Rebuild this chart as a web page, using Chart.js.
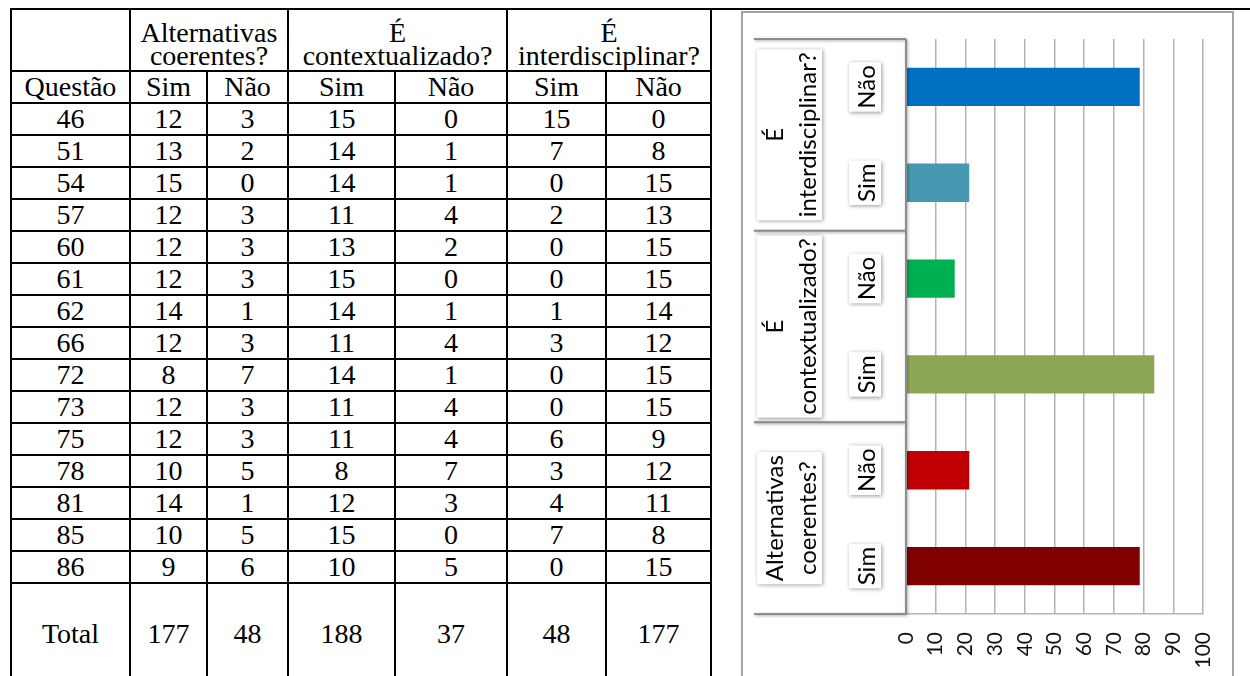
<!DOCTYPE html>
<html lang="pt">
<head>
<meta charset="utf-8">
<title>Avaliação das questões</title>
<script src="https://cdn.jsdelivr.net/npm/chart.js@4.4.1/dist/chart.umd.min.js"></script>
<style>
  html, body { margin: 0; padding: 0; background: #fff; }
  body { width: 1250px; height: 676px; position: relative; overflow: hidden; }
  #tabela > div { position: absolute; }
  .cell { font-family: 'Liberation Serif', 'Times New Roman', serif; font-size: 28px; color: #000;
          text-align: center; white-space: nowrap; line-height: 32px; }
  .cell.dupla { line-height: 23px; }
  .cell span { display: block; }
  .hline { height: 2px; background: #000; }
  .vline { width: 2px; background: #000; }
  #moldura { position: absolute; left: 741px; top: 11px; width: 493px; height: 700px;
             box-sizing: border-box; border: 2px solid #a3a3a3; }
  #grafico { position: absolute; left: 743px; top: 13px; }
</style>
</head>
<body>
<div id="tabela"></div>
<div id="moldura"></div>
<canvas id="grafico" width="489" height="663"></canvas>
<script>
// tabela
const questoes = ['46', '51', '54', '57', '60', '61', '62', '66', '72', '73', '75', '78', '81', '85', '86'];
const altSim = [12, 13, 15, 12, 12, 12, 14, 12, 8, 12, 12, 10, 14, 10, 9];
const altNao = [3, 2, 0, 3, 3, 3, 1, 3, 7, 3, 3, 5, 1, 5, 6];
const contSim = [15, 14, 14, 11, 13, 15, 14, 11, 14, 11, 11, 8, 12, 15, 10];
const contNao = [0, 1, 1, 4, 2, 0, 1, 4, 1, 4, 4, 7, 3, 0, 5];
const interSim = [15, 7, 0, 2, 0, 0, 1, 3, 0, 0, 6, 3, 4, 7, 0];
const interNao = [0, 8, 15, 13, 15, 15, 14, 12, 15, 15, 9, 12, 11, 8, 15];
const totais = [177, 48, 188, 37, 48, 177];
const cabecalhos = [['Alternativas', 'coerentes?'], ['É', 'contextualizado?'], ['É', 'interdisciplinar?']];
const subCabecalhos = ['Questão', 'Sim', 'Não', 'Sim', 'Não', 'Sim', 'Não'];

// gráfico
const respostas = ['Sim', 'Não', 'Sim', 'Não', 'Sim', 'Não'];
const grupos = [['Alternativas', 'coerentes?'], ['É', 'contextualizado?'], ['É', 'interdisciplinar?']];
const grupoDe = [0, 0, 1, 1, 2, 2];
const percentuais = [78.7, 21.3, 83.6, 16.4, 21.3, 78.7];
const cores = ['#800000', '#c00000', '#8ca754', '#00b050', '#4699b0', '#0070c0'];

// ---- tabela em divs posicionados
const tabela = document.getElementById('tabela');
const colX = [11, 130, 207, 288, 395, 507, 606, 711];

function add(cls, x, y, w, h, html) {
  const d = document.createElement('div');
  d.className = cls;
  d.style.left = x + 'px';
  d.style.top = y + 'px';
  if (w != null) d.style.width = w + 'px';
  if (h != null) d.style.height = h + 'px';
  if (html != null) d.innerHTML = html;
  tabela.appendChild(d);
}

cabecalhos.forEach((linhas, g) => {
  const x0 = colX[1 + g * 2], x1 = colX[3 + g * 2];
  add('cell dupla', x0, 21, x1 - x0, null, linhas.map(t => '<span>' + t + '</span>').join(''));
});
subCabecalhos.forEach((t, c) => add('cell', colX[c], 71, colX[c + 1] - colX[c], 32, t));

const colunas = [questoes, altSim, altNao, contSim, contNao, interSim, interNao];
questoes.forEach((q, r) => {
  colunas.forEach((col, c) => add('cell', colX[c], 103 + r * 32, colX[c + 1] - colX[c], 32, String(col[r])));
});
['Total'].concat(totais).forEach((t, c) => add('cell', colX[c], 618, colX[c + 1] - colX[c], 32, String(t)));

// linhas
add('hline', 10, 8, 1240, null);
const linhasY = [71, 103];
for (let r = 1; r <= questoes.length; r++) linhasY.push(103 + r * 32);
linhasY.forEach(y => add('hline', 10, y - 1, 702, null));
colX.forEach((x, c) => {
  const sub = c === 2 || c === 4 || c === 6;
  const top = sub ? 70 : 8;
  add('vline', x - 1, top, null, 676 - top);
});

// ---- rótulos das categorias
function rotulo(ctx, linhas, bases, cy, x0, x1) {
  const w = Math.max(...linhas.map(t => ctx.measureText(t).width));
  ctx.save();
  ctx.shadowColor = 'rgba(0,0,0,0.4)';
  ctx.shadowBlur = 4;
  ctx.shadowOffsetX = 1;
  ctx.shadowOffsetY = 1;
  ctx.fillStyle = '#fff';
  ctx.fillRect(x0, cy - w / 2 - 3, x1 - x0, w + 6);
  ctx.restore();
  ctx.fillStyle = '#000';
  ctx.textAlign = 'center';
  ctx.textBaseline = 'alphabetic';
  linhas.forEach((t, k) => {
    ctx.save();
    ctx.translate(bases[k], cy);
    ctx.rotate(-Math.PI / 2);
    ctx.fillText(t, 0, 0);
    ctx.restore();
  });
}

const etiquetas = {
  id: 'etiquetas',
  afterDraw(chart) {
    const { ctx, chartArea: area, scales: { y } } = chart;
    const passo = Math.abs(y.getPixelForValue(1) - y.getPixelForValue(0));
    const esq = 11;
    const faixas = grupos.map((g, gi) => {
      const ps = respostas.map((r, i) => i).filter(i => grupoDe[i] === gi).map(i => y.getPixelForValue(i));
      const topo = Math.min(...ps) - passo / 2;
      const base = Math.max(...ps) + passo / 2;
      return { topo, base, meio: (topo + base) / 2 };
    });
    ctx.save();
    ctx.strokeStyle = '#8c8c8c';
    ctx.lineWidth = 2;
    ctx.shadowColor = 'rgba(0,0,0,0.35)';
    ctx.shadowBlur = 3;
    ctx.shadowOffsetX = 1;
    ctx.shadowOffsetY = 1;
    ctx.beginPath();
    faixas.forEach(f => {
      ctx.moveTo(esq, f.topo); ctx.lineTo(area.left, f.topo);
      ctx.moveTo(esq, f.base); ctx.lineTo(area.left, f.base);
    });
    ctx.moveTo(area.left, area.top); ctx.lineTo(area.left, area.bottom);
    ctx.stroke();
    ctx.shadowColor = 'transparent';
    ctx.font = '24px Lato';
    faixas.forEach((f, gi) => rotulo(ctx, grupos[gi], [40, 73], f.meio, 14, 79));
    respostas.forEach((r, i) => rotulo(ctx, [r], [132], y.getPixelForValue(i), 106, 138));
    ctx.restore();
  }
};

function desenhar() {
  Chart.defaults.font.family = 'Lato';
  new Chart(document.getElementById('grafico'), {
    type: 'bar',
    data: {
      labels: respostas.map((r, i) => r + ' ' + grupos[grupoDe[i]].join(' ')),
      datasets: [{
        data: percentuais,
        backgroundColor: cores,
        borderWidth: 0,
        barPercentage: 0.4,
        categoryPercentage: 1,
      }],
    },
    options: {
      indexAxis: 'y',
      responsive: false,
      animation: false,
      layout: { padding: { top: 26, right: 29, left: 0, bottom: 0 } },
      plugins: { legend: { display: false }, tooltip: { enabled: false } },
      scales: {
        x: {
          min: 0,
          max: 100,
          ticks: { stepSize: 10, autoSkip: false, minRotation: 90, maxRotation: 90, padding: 18,
                   color: '#111', font: { family: 'Lato', size: 21 } },
          grid: { color: '#b4b4b4', lineWidth: 1.5, drawTicks: false },
          border: { color: '#b4b4b4', width: 1.5 },
          afterFit(s) { s.height = 62; s.paddingLeft = 0; s.paddingRight = 0; },
        },
        y: {
          reverse: true,
          ticks: { display: false },
          grid: { display: false },
          border: { display: false },
          afterFit(s) { s.width = 163; s.paddingTop = 0; s.paddingBottom = 0; },
        },
      },
    },
    plugins: [etiquetas],
  });
}

if (document.fonts && document.fonts.load) {
  Promise.all([document.fonts.load('24px Lato'), document.fonts.load('28px "Liberation Serif"')])
    .then(desenhar, desenhar);
} else {
  desenhar();
}
</script>
</body>
</html>
